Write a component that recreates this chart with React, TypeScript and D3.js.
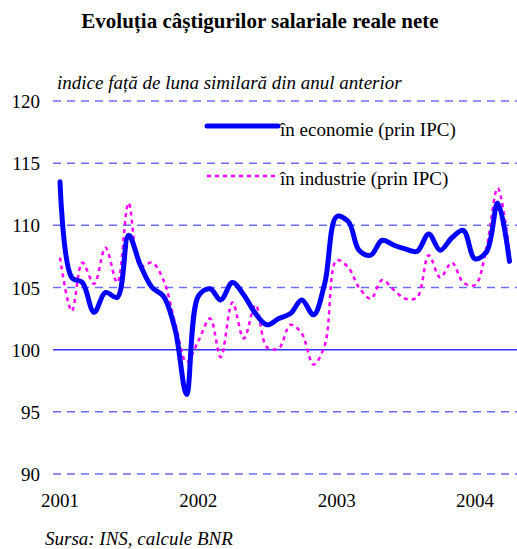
import React from "react";
import * as d3 from "d3";

const months = d3.range(40).map((i) => new Date(2001, i, 1));
const economie = [
  113.5, 105.8, 105.4, 103.0, 104.6, 104.2, 109.2, 106.8, 105.0, 104.3, 101.6, 96.4,
  104.3, 104.9, 104.0, 105.4, 104.4, 102.9, 102.0, 102.5, 102.9, 104.0, 102.8, 105.4,
  110.7, 110.3, 108.0, 107.6, 108.8, 108.4, 108.1, 107.9, 109.3, 108.0, 109.0, 109.6,
  107.3, 107.9, 111.8, 107.1,
];
const industrie = [
  107.4, 103.1, 107.0, 105.3, 108.2, 105.4, 111.8, 106.7, 107.0, 105.6, 102.1, 99.0,
  100.7, 102.5, 99.4, 103.8, 100.9, 103.6, 100.2, 100.1, 102.0, 101.3, 98.8, 100.4,
  107.2, 106.6, 105.0, 104.1, 105.6, 104.8, 104.1, 104.2, 107.6, 105.8, 107.0, 105.4,
  105.2, 108.3, 113.0, 107.8,
];
const yTicks = [90, 95, 100, 105, 110, 115, 120];
const yearTicks = [2001, 2002, 2003, 2004];

const W = 517;
const H = 549;
const font = "'Liberation Serif', 'Times New Roman', Times, serif";

export default function App() {
  const x = d3
    .scaleTime()
    .domain([new Date(2001, 0, 1), new Date(2004, 0, 1)])
    .range([60, 475]);
  const y = d3.scaleLinear().domain([90, 120]).range([474, 101]);
  const line = (vals: number[]) =>
    d3
      .line<number>()
      .x((_, i) => x(months[i]))
      .y((v) => y(v))
      .curve(d3.curveCatmullRom.alpha(0.5))(vals) as string;

  return (
    <svg
      width={W}
      height={H}
      style={{ position: "absolute", left: 0, top: 0, background: "#fff", fontFamily: font }}
    >
      <text x={260} y={28} textAnchor="middle" fontSize={21} fontWeight="bold" fill="#000">
        Evoluția câștigurilor salariale reale nete
      </text>
      <text x={57} y={89} fontSize={19} fontStyle="italic" fill="#000">
        indice față de luna similară din anul anterior
      </text>
      {yTicks.map((t) => (
        <g key={t}>
          <line
            x1={53}
            x2={517}
            y1={y(t)}
            y2={y(t)}
            stroke={t === 100 ? "#3333ff" : "#6b6bff"}
            strokeWidth={1.5}
            strokeDasharray={t === 100 ? undefined : "8,6"}
          />
          <text x={40} y={y(t) + 7} textAnchor="end" fontSize={19} fill="#000">
            {t}
          </text>
        </g>
      ))}
      {yearTicks.map((yr) => (
        <text key={yr} x={x(new Date(yr, 0, 1))} y={507} textAnchor="middle" fontSize={19} fill="#000">
          {yr}
        </text>
      ))}
      <path d={line(industrie)} fill="none" stroke="#ff00ff" strokeWidth={2.5} strokeDasharray="4,4" />
      <path d={line(economie)} fill="none" stroke="#0000ff" strokeWidth={5} strokeLinecap="round" />
      <line x1={207} x2={278} y1={126} y2={126} stroke="#0000ff" strokeWidth={5} strokeLinecap="round" />
      <text x={280} y={136} fontSize={19} fill="#000">
        în economie (prin IPC)
      </text>
      <line x1={207} x2={278} y1={176} y2={176} stroke="#ff00ff" strokeWidth={2.5} strokeDasharray="4,4" />
      <text x={280} y={185} fontSize={19} fill="#000">
        în industrie (prin IPC)
      </text>
      <text x={45} y={545} fontSize={19} fontStyle="italic" fill="#000">
        Sursa: INS, calcule BNR
      </text>
    </svg>
  );
}
